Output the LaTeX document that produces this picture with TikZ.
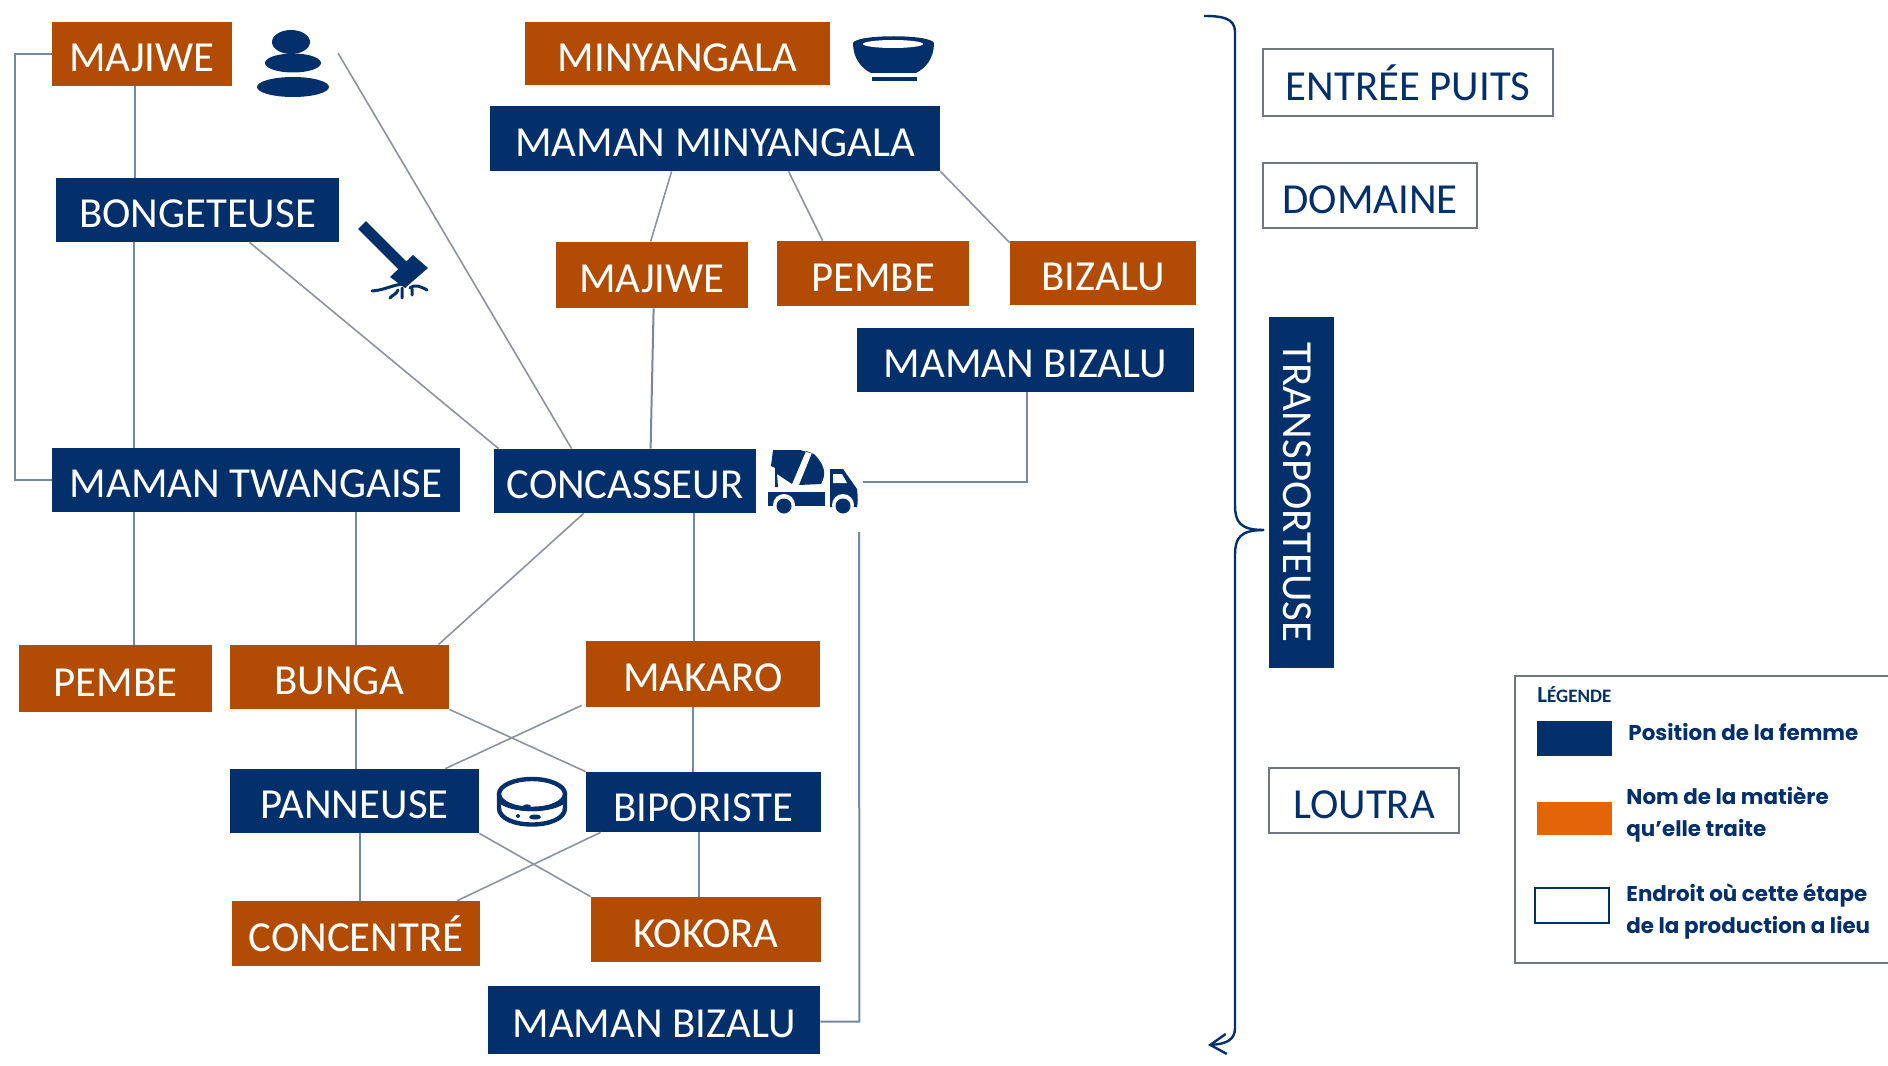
\documentclass[tikz,border=0pt]{standalone}
\usepackage{fontspec}
\setmainfont{Carlito}
\newfontfamily\legendfont{Poppins}
\usetikzlibrary{calc,arrows.meta}
\definecolor{navy}{HTML}{03306B}
\definecolor{rust}{HTML}{B24C05}
\definecolor{flame}{HTML}{E4640A}
\definecolor{linkblue}{HTML}{7388A3}
\definecolor{linkgrey}{HTML}{8C939E}
\definecolor{framegrey}{HTML}{6F7780}
\tikzset{
  boxtext/.style={font=\fontsize{21.4}{24}\selectfont,inner sep=0pt,text height=17.6pt,text depth=0pt},
  navybox/.style={boxtext,fill=navy,text=white},
  rustbox/.style={boxtext,fill=rust,text=white},
  placebox/.style={boxtext,draw=framegrey,line width=1pt,fill=white,text=navy},
  link/.style={draw=linkblue,line width=1pt},
  thin link/.style={draw=linkgrey,line width=.8pt},
  icon/.style={fill=navy,draw=none},
  legendtext/.style={text=navy,font=\legendfont\bfseries\fontsize{10.7}{15.7}\selectfont,align=left,anchor=west,inner sep=0pt},
}
\newcommand{\bx}[7][]{%
  \pgfmathsetmacro{\cxx}{(#4+#6)/2}\pgfmathsetmacro{\cyy}{(#5+#7)/2}%
  \pgfmathsetmacro{\ww}{(#6-#4)*.5}\pgfmathsetmacro{\hh}{(#7-#5)*.5}%
  \node[#2,minimum width=\ww pt,minimum height=\hh pt,#1] (#3) at (\cxx,\cyy)}
\begin{document}
\begin{tikzpicture}[x=.5pt,y=-.5pt]
\useasboundingbox (0,0) rectangle (1888,1065);
% nodes
\bx{rustbox}{majA}{52}{22}{232}{86} {MAJIWE};
\bx{navybox}{bong}{56}{178}{339}{242} {BONGETEUSE};
\bx{rustbox}{miny}{525}{22}{830}{85} {MINYANGALA};
\bx{navybox}{maminy}{490}{106}{940}{171} {MAMAN MINYANGALA};
\bx{rustbox}{majB}{556}{242}{748}{308} {MAJIWE};
\bx{rustbox}{pemA}{777}{241}{969}{306} {PEMBE};
\bx{rustbox}{biz}{1010}{241}{1196}{305} {BIZALU};
\bx{navybox}{mabizA}{857}{328}{1194}{392} {MAMAN BIZALU};
\bx{navybox}{twang}{52}{448}{460}{512} {MAMAN TWANGAISE};
\bx{navybox}{conc}{494}{449}{756}{513} {CONCASSEUR};
\bx{rustbox}{pemB}{19}{645}{212}{712} {PEMBE};
\bx{rustbox}{bunga}{230}{645}{449}{709} {BUNGA};
\bx{rustbox}{mak}{586}{641}{820}{707} {MAKARO};
\bx{navybox}{pann}{230}{769}{479}{833} {PANNEUSE};
\bx[text height=19pt]{navybox}{bipo}{586}{772}{821}{832} {BIPORISTE};
\bx{rustbox}{cent}{232}{901}{480}{966} {CONCENTRÉ};
\bx{rustbox}{kok}{591}{897}{821}{962} {KOKORA};
\bx{navybox}{mabizB}{488}{986}{820}{1054} {MAMAN BIZALU};
\bx{placebox}{puits}{1263}{49}{1553}{116} {ENTRÉE PUITS};
\bx{placebox}{dom}{1263}{163}{1477}{228} {DOMAINE};
\bx{placebox}{lout}{1269}{768}{1459}{833} {LOUTRA};
\node[navybox,minimum width=175.5pt,minimum height=32.5pt,rotate=-90] (transp) at (1301.5,492.5) {TRANSPORTEUSE};
% free-end anchors beside the icons
\coordinate (stones) at (338,53);
\coordinate (truckR) at (863,482);
\coordinate (truckB) at (859,532);
% connectors
\draw[link] (majA.west) -- ++(-37,0) |- (twang.west);
\draw[link] ($(majA.south west)+(83,0)$) -- ($(bong.north west)+(79,0)$);
\draw[link] ($(bong.south west)+(78,0)$) -- ($(twang.north west)+(82,0)$);
\draw[thin link] (stones) -- ($(conc.north west)+(78,0)$);
\draw[thin link] ($(bong.south west)+(194,0)$) -- ($(conc.north west)+(5,0)$);
\draw[thin link] ($(maminy.south west)+(182,0)$) -- ($(majB.north west)+(95,0)$);
\draw[thin link] ($(maminy.south west)+(299,0)$) -- ($(pemA.north west)+(46,0)$);
\draw[thin link] (maminy.south east) -- ($(biz.north west)+(0,2)$);
\draw[link] ($(majB.south west)+(98,0)$) -- ($(conc.north west)+(157,0)$);
\draw[link] ($(mabizA.south west)+(170,0)$) |- (truckR);
\draw[link] ($(twang.south west)+(82,0)$) -- ($(pemB.north west)+(115,0)$);
\draw[link] ($(twang.south west)+(304,0)$) -- ($(bunga.north west)+(126,0)$);
\draw[thin link] ($(conc.south west)+(90,0)$) -- ($(bunga.north east)+(-11,0)$);
\draw[link] ($(conc.south west)+(200,0)$) -- ($(mak.north west)+(108,0)$);
\draw[link] ($(bunga.south west)+(126,0)$) -- ($(pann.north west)+(126,0)$);
\draw[link] ($(mak.south west)+(107,0)$) -- ($(bipo.north west)+(107,0)$);
\draw[thin link] (bunga.south east) -- (bipo.north west);
\draw[thin link] ($(mak.south west)+(-4,-2)$) -- ($(pann.north east)+(-34,0)$);
\draw[link] ($(pann.south west)+(130,0)$) -- ($(cent.north west)+(128,0)$);
\draw[link] ($(bipo.south west)+(113,0)$) -- ($(kok.north west)+(108,0)$);
\draw[thin link] (pann.south east) -- (kok.north west);
\draw[thin link] ($(bipo.south west)+(15,0)$) -- ($(cent.north east)+(-23,0)$);
\draw[link] ($(mabizB.north east)+(0,36)$) -| ++(39,-22) -- (truckB);
% brace
\draw[navy,line width=1.2pt] (1204,16) .. controls (1222,16) and (1235,18) .. (1235,32) -- (1235,505) .. controls (1235,522) and (1240,530) .. (1264,530);
\draw[navy,line width=1.2pt,-{Straight Barb[length=8pt,width=10pt]}] (1264,530) .. controls (1240,530) and (1235,538) .. (1235,555) -- (1235,1028) .. controls (1235,1040) and (1226,1044) .. (1208,1045);
% stones
\fill[icon] (291,42) ellipse [x radius=19,y radius=12];
\fill[icon] (293,63) ellipse [x radius=28,y radius=9.5];
\fill[icon] (293,87) ellipse [x radius=36,y radius=10];
% bowl
\fill[icon] (853,43) .. controls (856,34) and (931,34) .. (934,43) .. controls (934,58) and (926,68) .. (916,73) -- (871,73) .. controls (861,68) and (853,58) .. (853,43) -- cycle;
\fill[white] (893,44) ellipse [x radius=30,y radius=4];
\fill[icon] (872,77) rectangle (917,81);
% hammer
\draw[navy,line width=5.5pt] (362,225) -- (403,266);
\fill[icon] (413,255) -- (428,268) -- (405,288) -- (390,277) -- cycle;
\draw[navy,line width=1.5pt,line cap=round] (403,284) .. controls (392,285) and (385,290) .. (372,291) (398,290) .. controls (397,294) and (392,295) .. (390,298) (402,288) -- (402,298) (410,288) .. controls (414,284) and (420,286) .. (427,290) (412,289) -- (412,295);
% truck
\fill[icon] (768,492) rectangle (825,506);
\fill[icon] (773,450) -- (800,450) -- (814,454) .. controls (826,466) and (826,475) .. (821,484) -- (799,485) -- (812,453) -- (806,451) -- (792,484) -- (777,474) -- (778,487) -- (775,487) -- (775,468) -- (771,466) -- cycle;
\fill[icon] (830,469) -- (843,469) -- (857,489) .. controls (858,498) and (858,503) .. (857,507) -- (830,507) -- cycle;
\fill[white] (833,474) -- (842,474) -- (847,483) -- (833,483) -- cycle;
\fill[white] (784,505) circle [radius=11];
\fill[white] (843,505) circle [radius=11];
\fill[icon] (784,506) circle [radius=7.5];
\fill[icon] (843,506) circle [radius=7.5];
% sieve
\draw[navy,line width=2.2pt] (532,794) ellipse [x radius=33,y radius=15];
\draw[navy,line width=2.2pt] (499,794) -- (499,808) .. controls (499,830) and (565,830) .. (565,808) -- (565,794);
\draw[navy,line width=2.2pt] (499,800) .. controls (510,812) and (554,812) .. (565,800);
\fill[icon] (527,806) ellipse [x radius=4,y radius=1.6];
\fill[icon] (535,817) ellipse [x radius=6,y radius=2.5];
\fill[icon] (518,816) circle [radius=2];
% legend
\node[draw=framegrey,line width=1pt,fill=white,minimum width=190pt,minimum height=143.5pt,inner sep=0pt] (legend) at (1705,819.5) {};
\node[text=navy,anchor=west,inner sep=0pt] (legtitle) at (1537,695) {\bfseries\fontsize{11.5}{13}\selectfont L\fontsize{9.5}{13}\selectfont ÉGENDE};
\bx{fill=navy,inner sep=0pt}{swA}{1537}{721}{1612}{756} {};
\bx{fill=flame,inner sep=0pt}{swB}{1537}{802}{1612}{835} {};
\bx{draw=navy,line width=1.1pt,fill=white,inner sep=0pt}{swC}{1535}{888}{1609}{923} {};
\node[legendtext] (tA) at (1628,732) {Position de la femme};
\node[legendtext] (tB) at (1626,814.5) {Nom de la matière\\qu’elle traite};
\node[legendtext] (tC) at (1626,911.5) {Endroit où cette étape\\de la production a lieu};
\end{tikzpicture}
\end{document}
